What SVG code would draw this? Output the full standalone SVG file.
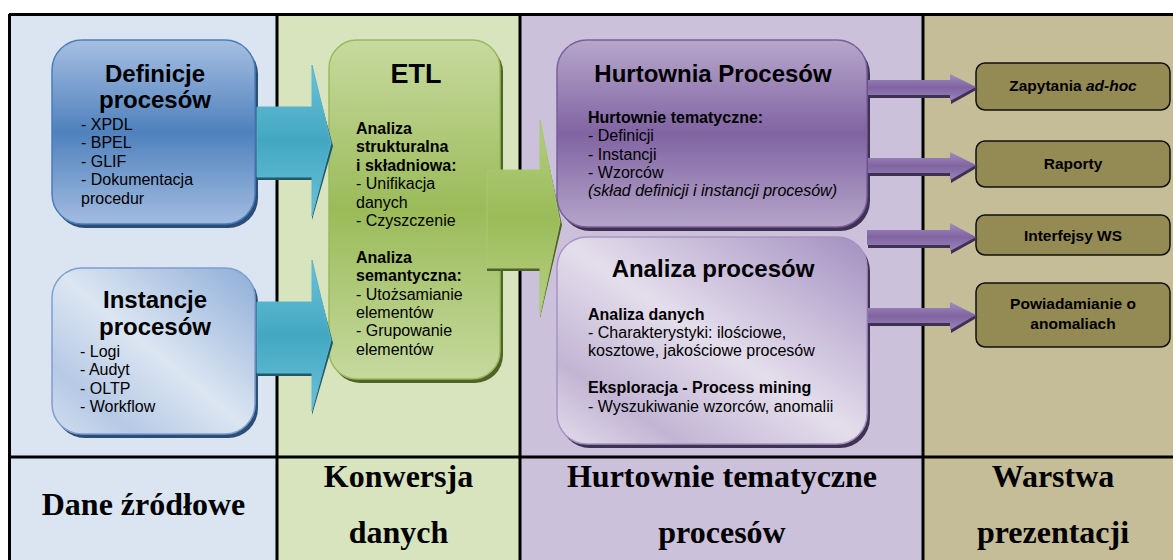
<svg xmlns="http://www.w3.org/2000/svg" width="1173" height="560" viewBox="0 0 1173 560">
<defs>
<linearGradient id="gDef" x1="0" y1="0" x2="0" y2="1">
<stop offset="0" stop-color="#a6bfe1"/><stop offset="0.5" stop-color="#4f81bd"/><stop offset="1" stop-color="#a2bce0"/>
</linearGradient>
<linearGradient id="gInst" x1="1" y1="0" x2="0" y2="1">
<stop offset="0" stop-color="#8eadd8"/><stop offset="0.5" stop-color="#dce6f2"/><stop offset="0.8" stop-color="#b6c9e5"/><stop offset="1" stop-color="#d2deef"/>
</linearGradient>
<linearGradient id="gEtl" x1="0" y1="0" x2="0" y2="1">
<stop offset="0" stop-color="#c7da9f"/><stop offset="0.5" stop-color="#9bbb59"/><stop offset="1" stop-color="#c5d99e"/>
</linearGradient>
<linearGradient id="gHurt" x1="0" y1="0" x2="0" y2="1">
<stop offset="0" stop-color="#b7a7cb"/><stop offset="0.5" stop-color="#8064a2"/><stop offset="1" stop-color="#b5a5c9"/>
</linearGradient>
<linearGradient id="gAnal" x1="1" y1="0" x2="0" y2="1">
<stop offset="0" stop-color="#a38fc0"/><stop offset="0.5" stop-color="#e4deec"/><stop offset="0.8" stop-color="#c2b5d4"/><stop offset="1" stop-color="#e2dcea"/>
</linearGradient>
<linearGradient id="gBlue" x1="0" y1="0" x2="0" y2="1">
<stop offset="0" stop-color="#6cc2d9"/><stop offset="0.5" stop-color="#43a7c2"/><stop offset="1" stop-color="#6cc2d9"/>
</linearGradient>
<linearGradient id="gGreen" x1="0" y1="0" x2="0" y2="1">
<stop offset="0" stop-color="#b4cf7f"/><stop offset="0.5" stop-color="#9bbb59"/><stop offset="1" stop-color="#b8d183"/>
</linearGradient>
<linearGradient id="gPurp" x1="0" y1="0" x2="0" y2="1">
<stop offset="0" stop-color="#a18cc0"/><stop offset="0.5" stop-color="#8064a2"/><stop offset="1" stop-color="#9a84ba"/>
</linearGradient>
</defs>
<style>
.sans{font-family:"Liberation Sans",Arial,sans-serif;fill:#000}
.title{font-size:24px;font-weight:bold;text-anchor:middle}
.body{font-size:16px}
.b{font-weight:bold}
.i{font-style:italic}
.pres{font-size:15.5px;font-weight:bold;text-anchor:middle}
.lab{font-family:"Liberation Serif","Times New Roman",serif;font-size:32px;font-weight:bold;text-anchor:middle;fill:#000}
.line{stroke:#000;stroke-width:3;fill:none}
.pbox{fill:#948a54;stroke:#111;stroke-width:1.5}
</style>

<g id="background">
<rect x="9" y="14" width="268" height="546" fill="#dbe5f1"/>
<rect x="277" y="14" width="243" height="546" fill="#d7e4bd"/>
<rect x="520" y="14" width="403" height="546" fill="#ccc1da"/>
<rect x="923" y="14" width="250" height="546" fill="#c4bd97"/>
<path class="line" d="M9,14.5H1173M9.5,14V560M277,14V560M520,14V560M923,14V560M9,457H1173"/>
</g>

<g id="node-definicje">
<rect x="55" y="44" width="203" height="184" rx="30" fill="#2c4d75"/>
<rect x="52" y="40" width="203" height="184" rx="30" fill="url(#gDef)" stroke="#4a7ebb" stroke-width="1.5"/>
<text class="sans title" x="155" y="82">Definicje</text>
<text class="sans title" x="155" y="108">procesów</text>
<text class="sans body" x="81" y="130">- XPDL</text>
<text class="sans body" x="81" y="148.4">- BPEL</text>
<text class="sans body" x="81" y="166.8">- GLIF</text>
<text class="sans body" x="81" y="185.2">- Dokumentacja</text>
<text class="sans body" x="81" y="203.6">procedur</text>
</g>

<g id="node-instancje">
<rect x="55" y="272" width="203" height="166" rx="30" fill="#2c4d75"/>
<rect x="52" y="268" width="203" height="166" rx="30" fill="url(#gInst)" stroke="#7f9fcf" stroke-width="1.5"/>
<text class="sans title" x="155" y="308">Instancje</text>
<text class="sans title" x="155" y="335">procesów</text>
<text class="sans body" x="80" y="357">- Logi</text>
<text class="sans body" x="80" y="375.4">- Audyt</text>
<text class="sans body" x="80" y="393.8">- OLTP</text>
<text class="sans body" x="80" y="412.2">- Workflow</text>
</g>

<g id="node-etl">
<rect x="332" y="44" width="171" height="339" rx="28" fill="#4f6228"/>
<rect x="329" y="40" width="171" height="339" rx="28" fill="url(#gEtl)" stroke="#9bbb59" stroke-width="1.5"/>
<text class="sans b" x="416" y="83" style="font-size:27px;text-anchor:middle">ETL</text>
<text class="sans body b" x="356" y="134">Analiza</text>
<text class="sans body b" x="356" y="152.4">strukturalna</text>
<text class="sans body b" x="356" y="170.8">i składniowa:</text>
<text class="sans body" x="356" y="189.2">- Unifikacja</text>
<text class="sans body" x="356" y="207.6">danych</text>
<text class="sans body" x="356" y="226">- Czyszczenie</text>
<text class="sans body b" x="356" y="262.8">Analiza</text>
<text class="sans body b" x="356" y="281.2">semantyczna:</text>
<text class="sans body" x="356" y="299.6">- Utożsamianie</text>
<text class="sans body" x="356" y="318">elementów</text>
<text class="sans body" x="356" y="336.4">- Grupowanie</text>
<text class="sans body" x="356" y="354.8">elementów</text>
</g>

<g id="node-hurtownia">
<rect x="560" y="44" width="310" height="187" rx="30" fill="#3f3151"/>
<rect x="557" y="40" width="310" height="187" rx="30" fill="url(#gHurt)" stroke="#7a5f9c" stroke-width="1.5"/>
<text class="sans title" x="713" y="82">Hurtownia Procesów</text>
<text class="sans body b" x="588" y="122.7">Hurtownie tematyczne:</text>
<text class="sans body" x="588" y="141.1">- Definicji</text>
<text class="sans body" x="588" y="159.5">- Instancji</text>
<text class="sans body" x="588" y="177.9">- Wzorców</text>
<text class="sans body i" x="588" y="196.3">(skład definicji i instancji procesów)</text>
</g>

<g id="node-analiza">
<rect x="560" y="241" width="310" height="207" rx="30" fill="#3f3151"/>
<rect x="557" y="237" width="310" height="207" rx="30" fill="url(#gAnal)" stroke="#a695c2" stroke-width="1.5"/>
<text class="sans title" x="713" y="277">Analiza procesów</text>
<text class="sans body b" x="588" y="319.5">Analiza danych</text>
<text class="sans body" x="588" y="337.9">- Charakterystyki: ilościowe,</text>
<text class="sans body" x="588" y="356.3">kosztowe, jakościowe procesów</text>
<text class="sans body b" x="588" y="393.1">Eksploracja - Process mining</text>
<text class="sans body" x="588" y="411.5">- Wyszukiwanie wzorców, anomalii</text>
</g>

<g id="node-zapytania">
<rect class="pbox" x="976" y="63" width="194" height="47" rx="9"/>
<text class="sans pres" x="1073" y="91">Zapytania <tspan class="i">ad-hoc</tspan></text>
</g>
<g id="node-raporty">
<rect class="pbox" x="976" y="141" width="194" height="46" rx="9"/>
<text class="sans pres" x="1073" y="169">Raporty</text>
</g>
<g id="node-interfejsy">
<rect class="pbox" x="976" y="215" width="194" height="40" rx="9"/>
<text class="sans pres" x="1073" y="241">Interfejsy WS</text>
</g>
<g id="node-powiadamianie">
<rect class="pbox" x="976" y="283" width="194" height="64" rx="9"/>
<text class="sans pres" x="1073" y="308.5">Powiadamianie o</text>
<text class="sans pres" x="1073" y="328.5">anomaliach</text>
</g>

<g id="connectors">
<polygon points="257,110 312,110 312,68 333,146 312,220 312,180 257,180" fill="#215968"/>
<polygon points="257,107 312,107 312,65 331,143 312,216 312,177 257,177" fill="url(#gBlue)" stroke="#5bb5cd" stroke-width="1"/>
<polygon points="257,305 312,305 312,263 333,343 312,415 312,376 257,376" fill="#215968"/>
<polygon points="257,302 312,302 312,260 331,340 312,411 312,373 257,373" fill="url(#gBlue)" stroke="#5bb5cd" stroke-width="1"/>
<polygon points="487,173 540,173 540,123 562,225 540,318 540,271 487,271" fill="#4f6228"/>
<polygon points="487,170 540,170 540,120 560,222 540,315 540,268 487,268" fill="url(#gGreen)" stroke="#a9c770" stroke-width="1"/>
<polygon points="868,82 951,82 951,76 978,89 951,104 951,98 868,98" fill="#3f3151"/>
<polygon points="868,80 950,80 950,74 976,87 950,101 950,95 868,95" fill="url(#gPurp)"/>
<polygon points="868,160 951,160 951,154 978,167 951,183 951,176 868,176" fill="#3f3151"/>
<polygon points="868,158 950,158 950,152 976,165 950,180 950,173 868,173" fill="url(#gPurp)"/>
<polygon points="868,232 951,232 951,226 978,239 951,254 951,248 868,248" fill="#3f3151"/>
<polygon points="867,230 950,230 950,223 976,237 950,251 950,245 867,245" fill="url(#gPurp)"/>
<polygon points="868,310 951,310 951,304 978,317 951,333 951,326 868,326" fill="#3f3151"/>
<polygon points="868,308 950,308 950,302 976,315 950,330 950,323 868,323" fill="url(#gPurp)"/>
</g>

<g id="labels">
<text class="lab" x="143.5" y="515">Dane źródłowe</text>
<text class="lab" x="398.5" y="487">Konwersja</text>
<text class="lab" x="398.5" y="543">danych</text>
<text class="lab" x="722" y="487">Hurtownie tematyczne</text>
<text class="lab" x="722" y="543">procesów</text>
<text class="lab" x="1053" y="487">Warstwa</text>
<text class="lab" x="1053" y="543">prezentacji</text>
</g>
</svg>
